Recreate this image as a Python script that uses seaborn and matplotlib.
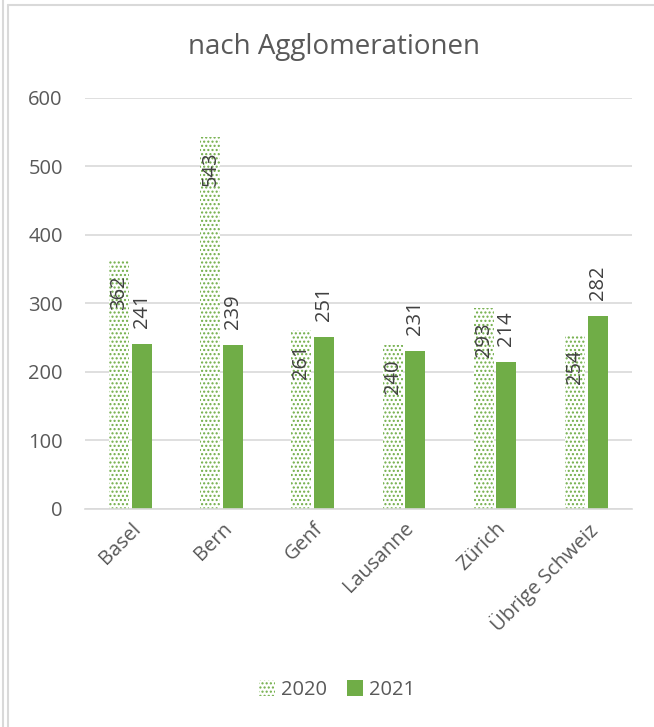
import matplotlib
matplotlib.use("Agg")
import matplotlib.pyplot as plt
import seaborn as sns
import pandas as pd
from matplotlib.lines import Line2D
from matplotlib.patches import Patch

categories = ["Basel", "Bern", "Genf", "Lausanne", "Zürich", "Übrige Schweiz"]
values_2020 = [362, 543, 261, 240, 293, 254]
values_2021 = [241, 239, 251, 231, 214, 282]
series = ["2020", "2021"]
yticks = [0, 100, 200, 300, 400, 500, 600]
title = "nach Agglomerationen"

green = "#70AD47"
text_col = "#595959"
grid_col = "#D9D9D9"
fs = 14.5

df = pd.DataFrame({
    "cat": categories * 2,
    "year": [series[0]] * len(categories) + [series[1]] * len(categories),
    "val": values_2020 + values_2021,
})

sns.set_theme(style="white")
plt.rcParams["font.family"] = ["Open Sans", "DejaVu Sans"]
plt.rcParams["hatch.linewidth"] = 1.0

fig = plt.figure(figsize=(6.54, 7.27), dpi=100)
ax = fig.add_axes([0.130, 0.2999, 0.836, 0.5653])

sns.barplot(data=df, x="cat", y="val", hue="year", order=categories,
            hue_order=series, palette=[green, green], width=0.5, gap=0.12,
            ax=ax, legend=False, saturation=1)

n = len(categories)
bars20 = ax.patches[:n]
bars21 = ax.patches[n:2 * n]
for p in bars20:
    p.set_facecolor("white")
    p.set_edgecolor(green)
    p.set_hatch("....")
    p.set_linewidth(0)
for p in bars21:
    p.set_linewidth(0)

for p, v in zip(bars20, values_2020):
    ax.annotate(str(v), (p.get_x() + p.get_width() / 2, v), xytext=(0, -10.5),
                textcoords="offset points", rotation=90, ha="center", va="top",
                fontsize=fs, color="#404040")
for p, v in zip(bars21, values_2021):
    ax.annotate(str(v), (p.get_x() + p.get_width() / 2, v), xytext=(0, 11.5),
                textcoords="offset points", rotation=90, ha="center", va="bottom",
                fontsize=fs, color="#404040")

ax.set_ylim(0, 600)
ax.set_yticks(yticks)
ax.set_yticklabels([str(t) for t in yticks], fontsize=fs, color=text_col)
ax.set_xlim(-0.5, n - 0.5)
ax.set_xticks(range(n))
ax.set_xticklabels(categories, rotation=45, ha="right", rotation_mode="anchor",
                   fontsize=fs, color=text_col)
ax.tick_params(axis="x", length=0, pad=7)
ax.tick_params(axis="y", length=0, pad=16)
ax.set_xlabel("")
ax.set_ylabel("")
ax.yaxis.grid(True, color=grid_col, linewidth=1.2)
ax.set_axisbelow(True)
for s in ["top", "right", "left"]:
    ax.spines[s].set_visible(False)
ax.spines["bottom"].set_color(grid_col)
ax.spines["bottom"].set_linewidth(1.2)

fig.text(0.511, 0.935, title, ha="center", va="center", fontsize=20, color=text_col)

handles = [Patch(facecolor="white", edgecolor=green, hatch="....", linewidth=0, label=series[0]),
           Patch(facecolor=green, edgecolor=green, linewidth=0, label=series[1])]
fig.legend(handles=handles, loc="center", bbox_to_anchor=(0.515, 0.051), ncol=2,
           frameon=False, fontsize=fs, labelcolor=text_col, handlelength=0.8,
           handleheight=0.8, handletextpad=0.3, columnspacing=1.0)

for l in [Line2D([0.005, 0.005], [0, 1]), Line2D([0.0125, 0.0125], [0, 0.993]),
          Line2D([0.0125, 1], [0.993, 0.993])]:
    l.set_transform(fig.transFigure)
    l.set_color("#D9D9D9")
    l.set_linewidth(1.5)
    fig.add_artist(l)

fig.savefig("out.png", dpi=100, facecolor="white")
